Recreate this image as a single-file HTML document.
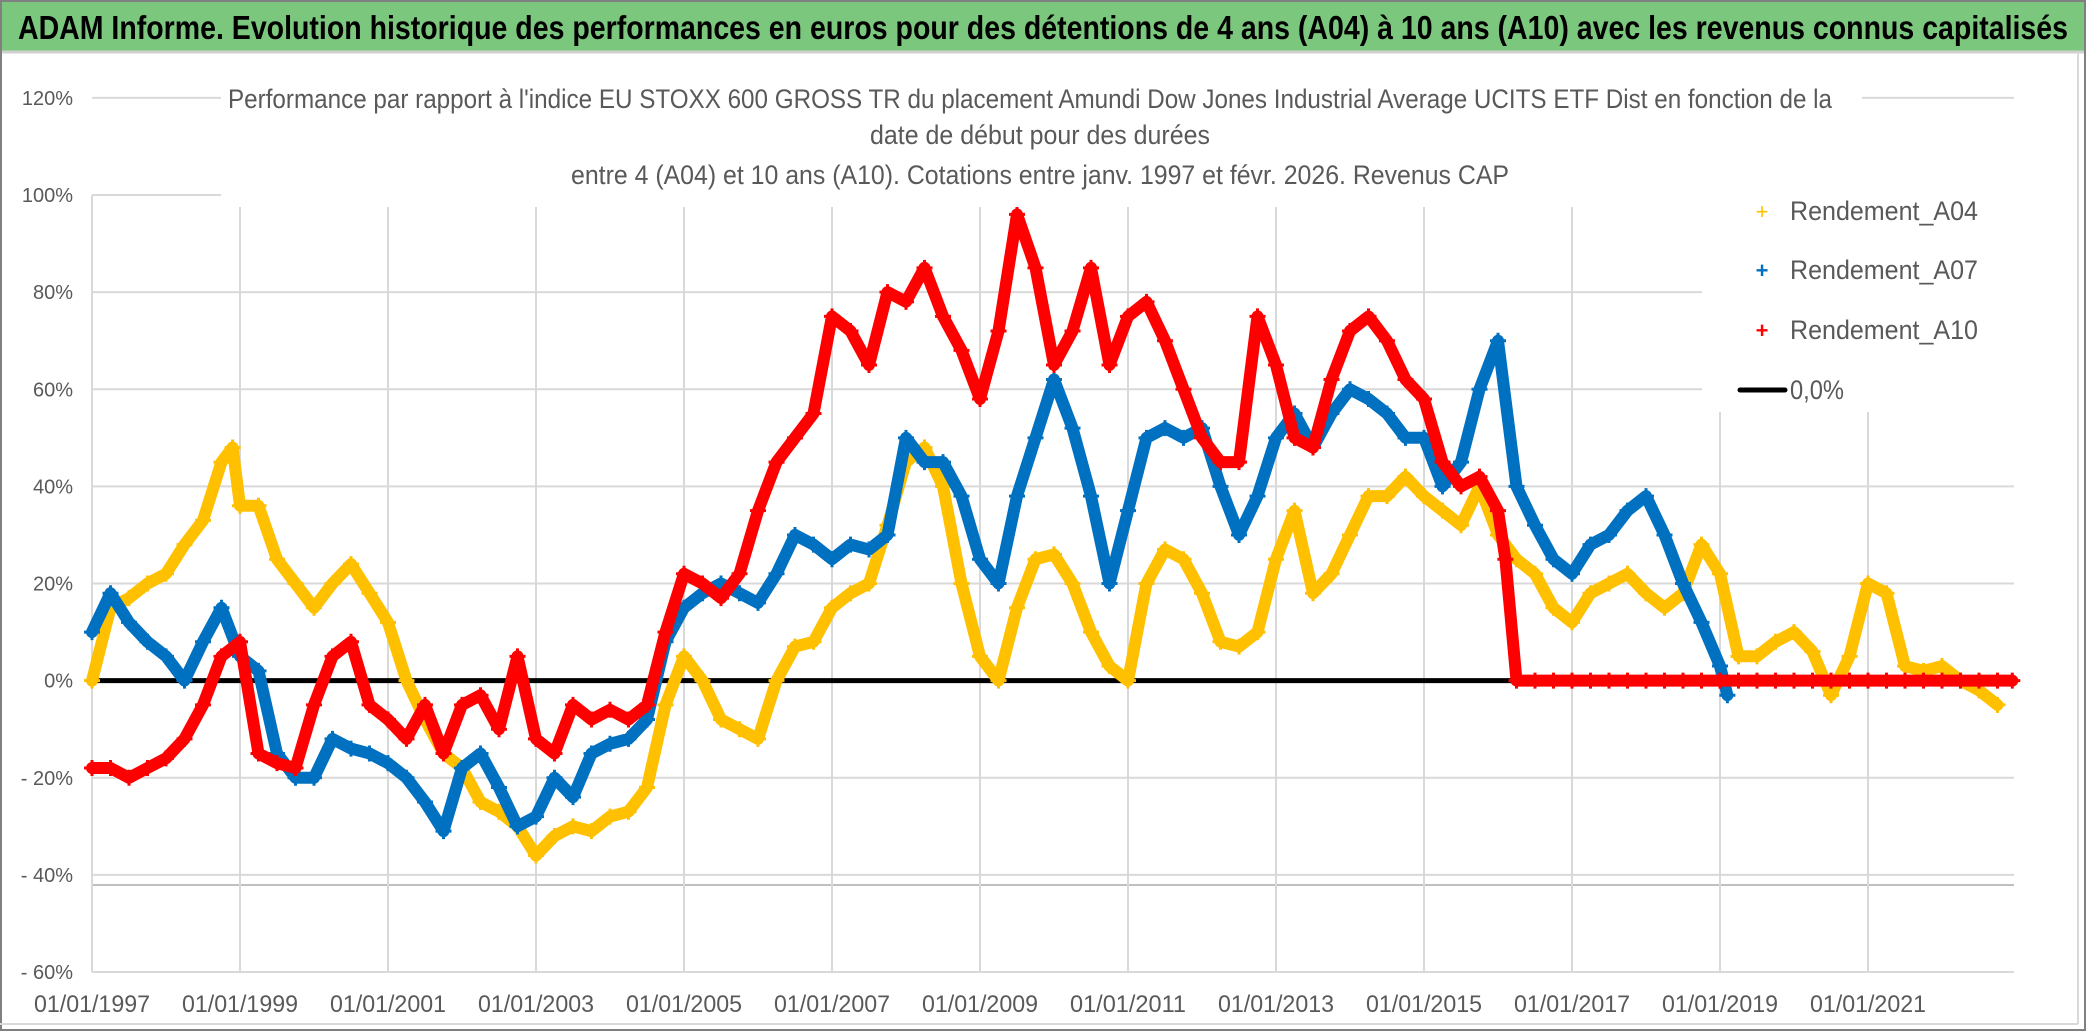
<!DOCTYPE html>
<html><head><meta charset="utf-8">
<style>
html,body{margin:0;padding:0;background:#fff;}
svg{display:block;}
text{font-family:"Liberation Sans Narrow","Liberation Sans",sans-serif;}
</style></head>
<body>
<svg id="chart" width="2086" height="1031" viewBox="0 0 2086 1031">
  <rect x="0" y="0" width="2086" height="1031" fill="#ffffff"/>
  <rect x="0" y="0" width="2086" height="51" fill="#7cc77e"/>
  <text x="18" y="39" font-size="33" font-weight="bold" fill="#000" textLength="2050" lengthAdjust="spacingAndGlyphs">ADAM Informe. Evolution historique des performances en euros pour des détentions de 4 ans (A04) à 10 ans (A10) avec les revenus connus capitalisés</text>
  <line x1="0" y1="52" x2="2086" y2="52" stroke="#d0d0d0" stroke-width="3"/>
  <rect x="1" y="1" width="2084" height="1029" fill="none" stroke="#808080" stroke-width="2"/>
  <line x1="2078" y1="52" x2="2078" y2="1024" stroke="#d9d9d9" stroke-width="2"/>
  <line x1="0" y1="1024" x2="2078" y2="1024" stroke="#d9d9d9" stroke-width="2"/>
  <g id="grid"></g>
  <g id="yaxis"></g>
  <g id="xaxis"></g>
  <g id="plot"></g>
  <g id="covers"></g>
  <g>
    <text x="1030" y="108" font-size="27" fill="#595959" text-anchor="middle" textLength="1604" lengthAdjust="spacingAndGlyphs">Performance par rapport à l'indice EU STOXX 600 GROSS TR  du placement Amundi Dow Jones Industrial Average UCITS ETF Dist en fonction de la</text>
    <text x="1040" y="144" font-size="27" fill="#595959" text-anchor="middle" textLength="340" lengthAdjust="spacingAndGlyphs">date de début pour des durées</text>
    <text x="1040" y="184" font-size="27" fill="#595959" text-anchor="middle" textLength="938" lengthAdjust="spacingAndGlyphs">entre 4 (A04) et 10 ans (A10). Cotations entre janv. 1997 et févr. 2026. Revenus CAP</text>
  </g>
  <g id="legend">
    <g>
      <text x="1762" y="219" font-size="22" fill="#ffc000" text-anchor="middle">+</text>
      <text x="1790" y="220" font-size="27" fill="#595959" textLength="188" lengthAdjust="spacingAndGlyphs">Rendement_A04</text>
    </g>
    <g>
      <text x="1762" y="278" font-size="22" fill="#0070c0" text-anchor="middle" font-weight="bold">+</text>
      <text x="1790" y="279" font-size="27" fill="#595959" textLength="188" lengthAdjust="spacingAndGlyphs">Rendement_A07</text>
    </g>
    <g>
      <text x="1762" y="338" font-size="22" fill="#ff0000" text-anchor="middle" font-weight="bold">+</text>
      <text x="1790" y="339" font-size="27" fill="#595959" textLength="188" lengthAdjust="spacingAndGlyphs">Rendement_A10</text>
    </g>
    <g>
      <line x1="1740" y1="390" x2="1785" y2="390" stroke="#000" stroke-width="5" stroke-linecap="round"/>
      <text x="1790" y="399" font-size="27" fill="#595959" textLength="54" lengthAdjust="spacingAndGlyphs">0,0%</text>
    </g>
  </g>
</svg>
<script>
// ---- data ----
const yTicks = [120, 100, 80, 60, 40, 20, 0, -20, -40, -60];
const yTickLabels = ["120%", "100%", "80%", "60%", "40%", "20%", "0%", "- 20%", "- 40%", "- 60%"];
const xTickYears = [1997, 1999, 2001, 2003, 2005, 2007, 2009, 2011, 2013, 2015, 2017, 2019, 2021];
const xTickLabels = ["01/01/1997","01/01/1999","01/01/2001","01/01/2003","01/01/2005","01/01/2007","01/01/2009","01/01/2011","01/01/2013","01/01/2015","01/01/2017","01/01/2019","01/01/2021"];

const a04Years = [1997.0,1997.25,1997.5,1997.75,1998.0,1998.25,1998.5,1998.75,1998.9,1999.0,1999.25,1999.5,1999.75,2000.0,2000.25,2000.5,2000.75,2001.0,2001.25,2001.5,2001.75,2002.0,2002.25,2002.5,2002.75,2003.0,2003.25,2003.5,2003.75,2004.0,2004.25,2004.5,2004.75,2005.0,2005.25,2005.5,2005.75,2006.0,2006.25,2006.5,2006.75,2007.0,2007.25,2007.5,2007.75,2008.0,2008.25,2008.5,2008.75,2009.0,2009.25,2009.5,2009.75,2010.0,2010.25,2010.5,2010.75,2011.0,2011.25,2011.5,2011.75,2012.0,2012.25,2012.5,2012.75,2013.0,2013.25,2013.5,2013.75,2014.0,2014.25,2014.5,2014.75,2015.0,2015.25,2015.5,2015.75,2016.0,2016.25,2016.5,2016.75,2017.0,2017.25,2017.5,2017.75,2018.0,2018.25,2018.5,2018.75,2019.0,2019.25,2019.5,2019.75,2020.0,2020.25,2020.5,2020.75,2021.0,2021.25,2021.5,2021.75,2022.0,2022.25,2022.5,2022.75];
const a04Values = [0,15,17,20,22,28,33,45,48,36,36,25,20,15,20,24,18,12,0,-8,-15,-18,-25,-27,-30,-36,-32,-30,-31,-28,-27,-22,-5,5,0,-8,-10,-12,0,7,8,15,18,20,32,45,48,40,20,5,0,15,25,26,20,10,3,0,20,27,25,18,8,7,10,25,35,18,22,30,38,38,42,38,35,32,40,30,25,22,15,12,18,20,22,18,15,18,28,22,5,5,8,10,6,-3,5,20,18,3,2,3,0,-2,-5];

const a07Years = [1997.0,1997.25,1997.5,1997.75,1998.0,1998.25,1998.5,1998.75,1999.0,1999.25,1999.5,1999.75,2000.0,2000.25,2000.5,2000.75,2001.0,2001.25,2001.5,2001.75,2002.0,2002.25,2002.5,2002.75,2003.0,2003.25,2003.5,2003.75,2004.0,2004.25,2004.5,2004.75,2005.0,2005.25,2005.5,2005.75,2006.0,2006.25,2006.5,2006.75,2007.0,2007.25,2007.5,2007.75,2008.0,2008.25,2008.5,2008.75,2009.0,2009.25,2009.5,2009.75,2010.0,2010.25,2010.5,2010.75,2011.0,2011.25,2011.5,2011.75,2012.0,2012.25,2012.5,2012.75,2013.0,2013.25,2013.5,2013.75,2014.0,2014.25,2014.5,2014.75,2015.0,2015.25,2015.5,2015.75,2016.0,2016.25,2016.5,2016.75,2017.0,2017.25,2017.5,2017.75,2018.0,2018.25,2018.5,2018.75,2019.0,2019.1];
const a07Values = [10,18,12,8,5,0,8,15,5,2,-15,-20,-20,-12,-14,-15,-17,-20,-25,-31,-18,-15,-22,-30,-28,-20,-24,-15,-13,-12,-8,8,15,18,20,18,16,22,30,28,25,28,27,30,50,45,45,38,25,20,38,50,62,52,38,20,35,50,52,50,52,40,30,38,50,55,48,55,60,58,55,50,50,40,45,60,70,40,32,25,22,28,30,35,38,30,20,12,3,-3];

const a10Years = [1997.0,1997.25,1997.5,1997.75,1998.0,1998.25,1998.5,1998.75,1999.0,1999.25,1999.5,1999.75,2000.0,2000.25,2000.5,2000.75,2001.0,2001.25,2001.5,2001.75,2002.0,2002.25,2002.5,2002.75,2003.0,2003.25,2003.5,2003.75,2004.0,2004.25,2004.5,2004.75,2005.0,2005.25,2005.5,2005.75,2006.0,2006.25,2006.5,2006.75,2007.0,2007.25,2007.5,2007.75,2008.0,2008.25,2008.5,2008.75,2009.0,2009.25,2009.5,2009.75,2010.0,2010.25,2010.5,2010.75,2011.0,2011.25,2011.5,2011.75,2012.0,2012.25,2012.5,2012.75,2013.0,2013.25,2013.5,2013.75,2014.0,2014.25,2014.5,2014.75,2015.0,2015.25,2015.5,2015.75,2016.0,2016.1,2016.25,2016.5,2016.75,2017.0,2017.25,2017.5,2017.75,2018.0,2018.25,2018.5,2018.75,2019.0,2019.25,2019.5,2019.75,2020.0,2020.25,2020.5,2020.75,2021.0,2021.25,2021.5,2021.75,2022.0,2022.25,2022.5,2022.75,2022.95];
const a10Values = [-18,-18,-20,-18,-16,-12,-5,5,8,-15,-17,-18,-5,5,8,-5,-8,-12,-5,-15,-5,-3,-10,5,-12,-15,-5,-8,-6,-8,-5,10,22,20,17,22,35,45,50,55,75,72,65,80,78,85,75,68,58,72,96,85,65,72,85,65,75,78,70,60,50,45,45,75,65,50,48,62,72,75,70,62,58,45,40,42,35,25,0,0,0,0,0,0,0,0,0,0,0,0,0,0,0,0,0,0,0,0,0,0,0,0,0,0,0,0];

// ---- scales ----
const X0 = 92, PX_PER_YEAR = 74, X_END = 2014;
const Y_TOP = 195, Y_BOTTOM = 972, V_TOP = 100, V_BOTTOM = -60;
function xs(year){ return X0 + (year - 1997) * PX_PER_YEAR; }
function ys(v){ return Y_TOP + (V_TOP - v) * (Y_BOTTOM - Y_TOP) / (V_TOP - V_BOTTOM); }
const NS = "http://www.w3.org/2000/svg";
function mk(tag, attrs, parent){ const e = document.createElementNS(NS, tag); for (const k in attrs) e.setAttribute(k, attrs[k]); parent.appendChild(e); return e; }

const grid = document.getElementById('grid');
const yaxis = document.getElementById('yaxis');
const xaxis = document.getElementById('xaxis');
const plot = document.getElementById('plot');
const covers = document.getElementById('covers');

yTicks.forEach((v, i) => {
  const y = ys(v);
  const gl = mk('line', {x1: X0, y1: y, x2: X_END, y2: y, stroke: '#d9d9d9', 'stroke-width': 2}, grid);
  
  
  const t = mk('text', {x: 73, y: y + 7, 'font-size': 20, fill: '#595959', 'text-anchor': 'end'}, yaxis);
  t.textContent = yTickLabels[i];
  
  
});
const refl = mk('line', {x1: X0, y1: 885, x2: X_END, y2: 885, stroke: '#bfbfbf', 'stroke-width': 2}, grid);


xTickYears.forEach((yr, i) => {
  const x = xs(yr);
  const gl = mk('line', {x1: x, y1: Y_TOP, x2: x, y2: Y_BOTTOM, stroke: '#d9d9d9', 'stroke-width': 2}, grid);
  
  
  const t = mk('text', {x: x, y: 1012, 'font-size': 24, fill: '#595959', 'text-anchor': 'middle', textLength: 116, lengthAdjust: 'spacingAndGlyphs'}, xaxis);
  t.textContent = xTickLabels[i];
  
  
});

const c1 = mk('rect', {x: 221, y: 60, width: 1641, height: 147, fill: '#fff'}, covers);


const c2 = mk('rect', {x: 1702, y: 180, width: 350, height: 232, fill: '#fff'}, covers);



const zl = mk('line', {x1: X0, y1: ys(0), x2: X_END, y2: ys(0), stroke: '#000', 'stroke-width': 5}, plot);



function drawSeries(years, values, color, name, bandW){
  const g = mk('g', {}, plot);
  
  
  const pts = years.map((yr, i) => xs(yr).toFixed(1) + ',' + ys(values[i]).toFixed(1)).join(' ');
  const pl = mk('polyline', {points: pts, fill: 'none', stroke: color, 'stroke-width': bandW, 'stroke-linejoin': 'round', 'stroke-linecap': 'round'}, g);
  
  
  years.forEach((yr, i) => {
    const x = xs(yr), y = ys(values[i]);
    const p = mk('path', {d: `M${x-8},${y}H${x+8}M${x},${y-8}V${y+8}`, stroke: color, 'stroke-width': 3, fill: 'none'}, g);
    
    
  });
}
drawSeries(a04Years, a04Values, '#ffc000', 'series-a04', 12);
drawSeries(a07Years, a07Values, '#0070c0', 'series-a07', 12);
drawSeries(a10Years, a10Values, '#ff0000', 'series-a10', 12);
</script>
</body></html>
